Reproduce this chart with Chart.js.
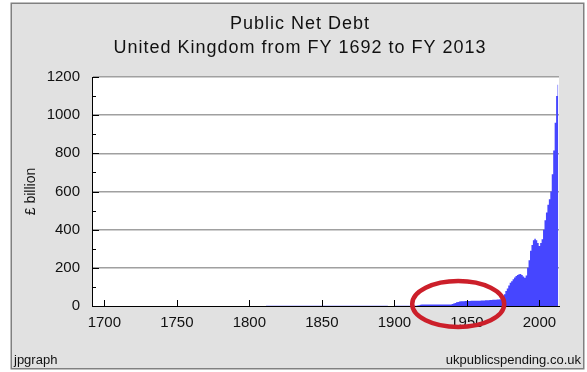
<!DOCTYPE html>
<html>
<head>
<meta charset="utf-8">
<script src="https://cdn.jsdelivr.net/npm/chart.js@4"></script>
<style>
html,body{margin:0;padding:0;background:#fff;}
#wrap{position:relative;width:587px;height:372px;}
</style>
</head>
<body>
<div id="wrap"><canvas id="c" width="587" height="372"></canvas></div>
<script>
// ---- Data ----
const titleLines = ['Public Net Debt', 'United Kingdom from FY 1692 to FY 2013'];
const yAxisTitle = '£ billion';
const footerLeft = 'jpgraph';
const footerRight = 'ukpublicspending.co.uk';
const firstYear = 1692;
const lastYear = 2013;
const xTickYears = [1700, 1750, 1800, 1850, 1900, 1950, 2000];
const yTickValues = [0, 200, 400, 600, 800, 1000, 1200];

// Public net debt, £ billion, one value per fiscal year
const debt1692to1799 = [
  0.00,0.00,0.01,0.01,0.01,0.02,0.02,0.01,
  0.01,0.01,0.01,0.01,0.01,0.01,0.02,0.02,0.02,0.02,
  0.02,0.03,0.04,0.04,0.04,0.04,0.05,0.05,0.05,0.05,
  0.05,0.05,0.05,0.05,0.05,0.05,0.05,0.05,0.05,0.05,
  0.05,0.05,0.05,0.05,0.05,0.05,0.05,0.05,0.05,0.05,
  0.05,0.05,0.05,0.05,0.06,0.06,0.06,0.07,0.07,0.08,
  0.08,0.08,0.08,0.08,0.08,0.08,0.08,0.09,0.09,0.10,
  0.10,0.11,0.12,0.13,0.13,0.13,0.13,0.13,0.13,0.13,
  0.13,0.13,0.13,0.13,0.13,0.13,0.13,0.14,0.15,0.16,
  0.17,0.19,0.21,0.23,0.24,0.24,0.24,0.24,0.24,0.24,
  0.24,0.24,0.24,0.24,0.25,0.27,0.29,0.33,0.37,0.41
];
const debt1800to1899 = [
  0.45,0.48,0.51,0.53,0.55,0.57,0.59,0.60,0.61,0.62,
  0.63,0.65,0.68,0.71,0.74,0.78,0.80,0.80,0.80,0.80,
  0.80,0.80,0.80,0.79,0.79,0.79,0.79,0.79,0.79,0.79,
  0.78,0.78,0.78,0.78,0.78,0.78,0.79,0.79,0.79,0.79,
  0.79,0.79,0.79,0.79,0.79,0.78,0.78,0.78,0.78,0.78,
  0.78,0.78,0.78,0.77,0.77,0.78,0.81,0.81,0.81,0.80,
  0.80,0.80,0.80,0.80,0.80,0.79,0.79,0.79,0.79,0.79,
  0.78,0.78,0.78,0.77,0.77,0.77,0.77,0.77,0.77,0.77,
  0.76,0.76,0.76,0.75,0.75,0.74,0.74,0.74,0.71,0.70,
  0.70,0.69,0.68,0.68,0.67,0.66,0.65,0.64,0.63,0.63
];
const debt1900to1969 = [
  0.63,0.69,0.75,0.77,0.77,0.77,0.76,0.75,0.74,0.72,
  0.71,0.69,0.68,0.67,0.70,1.10,2.10,4.00,5.90,7.40,
  7.80,7.60,7.70,7.80,7.70,7.60,7.60,7.60,7.50,7.50,
  7.50,7.50,7.60,7.80,7.80,7.80,7.80,7.80,7.90,8.30,
  10.3,13.0,16.0,19.0,21.5,23.5,24.5,25.5,25.5,25.8,
  26.0,26.0,26.5,27.0,27.5,27.5,27.5,27.5,28.0,28.0,
  28.5,28.5,29.0,29.5,30.0,30.5,31.0,32.0,33.0,33.0
];
const debt1970to2013 = [
  33,34,34,35,38,48,62,78,92,108,
  122,130,140,149,157,163,167,168,162,155,
  148,160,200,240,290,320,345,352,345,330,
  315,330,350,400,450,490,530,560,600,690,
  815,960,1100,1160
];
const debtValues = [...debt1692to1799, ...debt1800to1899, ...debt1900to1969, ...debt1970to2013];

const years = [];
for (let y = firstYear; y <= lastYear; y++) years.push(String(y));

// ---- Styling ----
const FONT = "'Liberation Sans', Arial, sans-serif";
const barColor = '#4646ff';
const bgColor = '#e1e1e1';

const framePlugin = {
  id: 'frame',
  beforeDraw(chart) {
    const ctx = chart.ctx;
    ctx.save();
    ctx.fillStyle = '#ffffff';
    ctx.fillRect(0, 0, chart.width, chart.height);
    ctx.fillStyle = bgColor;
    ctx.fillRect(11, 3, 573, 366);
    ctx.strokeStyle = '#808080';
    ctx.lineWidth = 1.5;
    ctx.strokeRect(11.25, 3.25, 572.5, 365.5);
    // plot background
    const a = chart.chartArea;
    ctx.fillStyle = '#ffffff';
    ctx.fillRect(a.left, a.top, a.right - a.left, a.bottom - a.top);
    // titles
    ctx.fillStyle = '#111';
    ctx.textAlign = 'center';
    ctx.textBaseline = 'alphabetic';
    ctx.font = '18px ' + FONT;
    try { ctx.letterSpacing = '1px'; } catch (e) {}
    ctx.fillText(titleLines[0], 300, 29);
    ctx.fillText(titleLines[1], 300, 53);
    try { ctx.letterSpacing = '0px'; } catch (e) {}
    // footers
    ctx.font = '13px ' + FONT;
    ctx.textAlign = 'left';
    ctx.fillText(footerLeft, 14, 364);
    ctx.textAlign = 'right';
    ctx.fillText(footerRight, 581, 364);
    // y axis title
    ctx.save();
    ctx.translate(35, (a.top + a.bottom) / 2);
    ctx.rotate(-Math.PI / 2);
    ctx.textAlign = 'center';
    ctx.font = '14px ' + FONT;
    ctx.fillText(yAxisTitle, 0, 0);
    ctx.restore();
    ctx.restore();
  },
  afterDraw(chart) {
    const ctx = chart.ctx;
    const x = chart.scales.x, y = chart.scales.y;
    const a = chart.chartArea;
    ctx.save();
    ctx.strokeStyle = '#000';
    ctx.lineWidth = 1;
    // y ticks (inward), major every 200, minor every 100
    for (let v = 0; v <= 1200; v += 100) {
      const py = Math.round(y.getPixelForValue(v)) + 0.5;
      const len = (v % 200 === 0) ? 7 : 4;
      ctx.beginPath();
      ctx.moveTo(a.left, py);
      ctx.lineTo(a.left + len, py);
      ctx.stroke();
    }
    // x ticks (inward)
    xTickYears.forEach(yr => {
      const px = Math.round(x.getPixelForValue(yr - firstYear)) + 0.5;
      ctx.beginPath();
      ctx.moveTo(px, a.bottom);
      ctx.lineTo(px, a.bottom - 6);
      ctx.stroke();
    });
    // red highlight ellipse around 1920-1970
    const cx = x.getPixelForValue(1944 - firstYear);
    const cy = y.getPixelForValue(0) - 2;
    ctx.strokeStyle = '#cc1f2a';
    ctx.lineWidth = 4.5;
    ctx.beginPath();
    ctx.ellipse(cx, cy, 46, 23, 0, 0, Math.PI * 2);
    ctx.stroke();
    ctx.restore();
  }
};

new Chart(document.getElementById('c'), {
  type: 'line',
  data: {
    labels: years,
    datasets: [{
      data: debtValues,
      backgroundColor: barColor,
      borderColor: barColor,
      borderWidth: 0,
      pointRadius: 0,
      stepped: 'middle',
      fill: 'origin'
    }]
  },
  options: {
    responsive: false,
    animation: false,
    events: [],
    layout: { padding: { top: 77, left: 0, right: 28, bottom: 36 } },
    plugins: { legend: { display: false }, tooltip: { enabled: false }, title: { display: false } },
    scales: {
      x: {
        type: 'category',
        offset: true,
        z: 1,
        grid: { display: false, drawTicks: false },
        border: { display: true, color: '#000', width: 1 },
        ticks: {
          autoSkip: false,
          maxRotation: 0,
          minRotation: 0,
          padding: 8,
          color: '#111',
          font: { family: FONT, size: 15 },
          callback: function(val, idx) {
            const yr = firstYear + idx;
            return xTickYears.includes(yr) ? String(yr) : '';
          }
        },
        afterFit(scale) { scale.height = 30; }
      },
      y: {
        min: 0,
        max: 1200,
        z: 1,
        afterBuildTicks(scale) { scale.ticks = yTickValues.map(v => ({ value: v })); },
        grid: {
          drawTicks: false,
          color: ctx => (ctx.tick && ctx.tick.value === 0) ? 'rgba(0,0,0,0)' : '#a0a0a0',
          lineWidth: 1.5
        },
        border: { display: true, color: '#000', width: 1 },
        ticks: {
          padding: 12,
          color: '#111',
          font: { family: FONT, size: 15 },
          callback: v => String(v)
        },
        afterFit(scale) { scale.width = 92; }
      }
    }
  },
  plugins: [framePlugin]
});
</script>
</body>
</html>
